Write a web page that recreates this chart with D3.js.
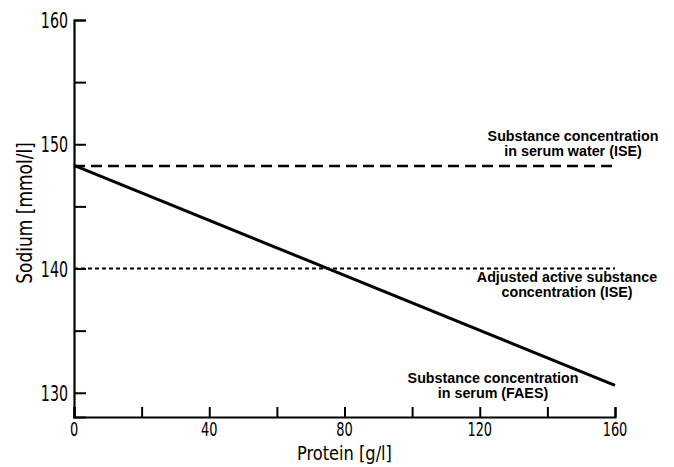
<!DOCTYPE html>
<html>
<head>
<meta charset="utf-8">
<script src="https://cdn.jsdelivr.net/npm/d3@7"></script>
<style>
  body { margin: 0; background: #fff; }
  .axis-label { font-family: "DejaVu Sans Condensed", "DejaVu Sans", sans-serif; }
  .note { font-family: "Liberation Sans", Arial, sans-serif; font-weight: bold; }
</style>
</head>
<body>
<div class="canvas"></div>
<script>
const WIDTH = 674;
const HEIGHT = 467;
const margin = { top: 20, right: 59, bottom: 50, left: 74 };
const graphWidth = WIDTH - margin.left - margin.right;
const graphHeight = HEIGHT - margin.top - margin.bottom;

// data
const xTicks = [0, 20, 40, 60, 80, 100, 120, 140, 160];
const xLabels = [0, 40, 80, 120, 160];
const yTicks = [130, 135, 140, 145, 150, 155, 160];
const yLabels = [130, 140, 150, 160];

const serum = [{ protein: 0, sodium: 148.3 }, { protein: 160, sodium: 130.6 }];
const serumWater = [{ protein: 0, sodium: 148.25 }, { protein: 160, sodium: 148.25 }];
const adjusted = [{ protein: 0, sodium: 140 }, { protein: 160, sodium: 140 }];

// narrow look of the original lettering
const squeeze = 0.72;

const svg = d3.select('.canvas')
  .append('svg')
    .attr('width', WIDTH)
    .attr('height', HEIGHT);

const graph = svg.append('g')
  .attr('transform', `translate(${margin.left}, ${margin.top})`);

// scales
const x = d3.scaleLinear().domain([0, 160]).range([0, graphWidth]);
const y = d3.scaleLinear().domain([128.05, 160]).range([graphHeight, 0]);

// axes
const xAxis = d3.axisTop(x)
  .tickValues(xTicks)
  .tickSize(10)
  .tickFormat('');

const yAxis = d3.axisRight(y)
  .tickValues(yTicks)
  .tickSize(12)
  .tickFormat('');

const xAxisGroup = graph.append('g')
  .attr('transform', `translate(0, ${graphHeight})`)
  .call(xAxis);

const yAxisGroup = graph.append('g')
  .call(yAxis);

[xAxisGroup, yAxisGroup].forEach(g => {
  g.select('.domain').attr('stroke', '#000').attr('stroke-width', 2.2);
  g.selectAll('.tick line').attr('stroke', '#000').attr('stroke-width', 2);
});

// tick labels
graph.append('g').selectAll('text')
  .data(xLabels)
  .enter().append('text')
    .attr('class', 'axis-label')
    .attr('transform', d => `translate(${x(d)}, ${graphHeight + 19}) scale(${squeeze}, 1)`)
    .attr('text-anchor', 'middle')
    .attr('font-size', 20)
    .text(d => d);

graph.append('g').selectAll('text')
  .data(yLabels)
  .enter().append('text')
    .attr('class', 'axis-label')
    .attr('transform', d => `translate(-6, ${y(d) + 8}) scale(${squeeze}, 1)`)
    .attr('text-anchor', 'end')
    .attr('font-size', 22)
    .text(d => d);

// axis titles
svg.append('text')
  .attr('class', 'axis-label')
  .attr('transform', `translate(${margin.left + x(80)}, 460) scale(0.95, 1)`)
  .attr('text-anchor', 'middle')
  .attr('font-size', 19)
  .text('Protein [g/l]');

svg.append('text')
  .attr('class', 'axis-label')
  .attr('transform', 'translate(32, 213) rotate(-90) scale(0.86, 1)')
  .attr('text-anchor', 'middle')
  .attr('font-size', 22)
  .text('Sodium [mmol/l]');

// lines
const line = d3.line()
  .x(d => x(d.protein))
  .y(d => y(d.sodium));

graph.append('path')
  .datum(serumWater)
  .attr('fill', 'none')
  .attr('stroke', '#000')
  .attr('stroke-width', 2.5)
  .attr('stroke-dasharray', '11 6')
  .attr('d', line);

graph.append('path')
  .datum(adjusted)
  .attr('fill', 'none')
  .attr('stroke', '#000')
  .attr('stroke-width', 2)
  .attr('stroke-dasharray', '4 3')
  .attr('d', line);

graph.append('path')
  .datum(serum)
  .attr('fill', 'none')
  .attr('stroke', '#000')
  .attr('stroke-width', 3)
  .attr('d', line);

// annotations
const notes = [
  { lines: ['Substance concentration', 'in serum water (ISE)'], cx: 573, y: 141 },
  { lines: ['Adjusted active substance', 'concentration (ISE)'], cx: 567, y: 282 },
  { lines: ['Substance concentration', 'in serum (FAES)'], cx: 493, y: 383 }
];

notes.forEach(n => {
  const t = svg.append('text')
    .attr('class', 'note')
    .attr('text-anchor', 'middle')
    .attr('font-size', 14.3);
  n.lines.forEach((l, i) => {
    t.append('tspan')
      .attr('x', n.cx)
      .attr('y', n.y + i * 15)
      .text(l);
  });
});
</script>
</body>
</html>
